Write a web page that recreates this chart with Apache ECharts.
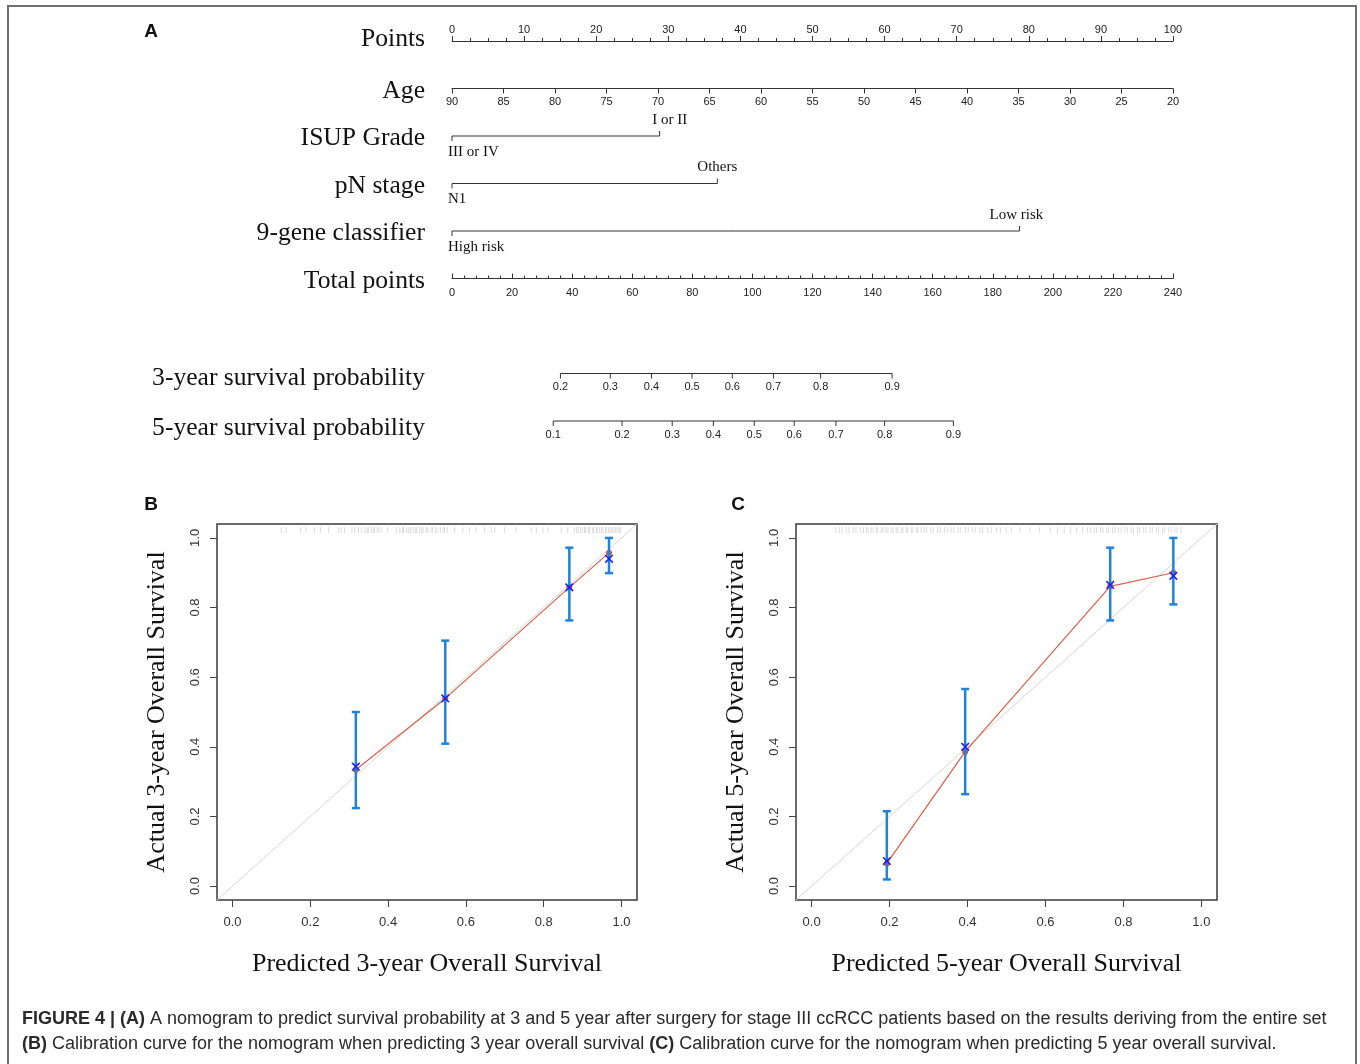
<!DOCTYPE html>
<html>
<head>
<meta charset="utf-8">
<script src="https://cdn.jsdelivr.net/npm/echarts@6/dist/echarts.min.js"></script>
<style>
html,body{margin:0;padding:0;background:#ffffff;}
#chart{width:1360px;height:1064px;}
</style>
</head>
<body>
<div id="chart"></div>
<script>
// ================= DATA =================
// Nomogram rows (names, in drawing order) and their row slots
const rowNames = ['Points', 'Age', 'ISUP Grade', 'pN stage', '9-gene classifier', 'Total points',
                  '3-year survival probability', '5-year survival probability'];
const rowSlots = [0, 1, 2, 3, 4, 5, 7, 8];

// Scales of the continuous nomogram axes
const pointsRange = [0, 100];
const ageRange = [20, 90];
const totalRange = [0, 240];

// Categorical predictors: levels and points
const isupLevels = ['III or IV', 'I or II'];
const isupPoints = [0, 28.8];
const pnLevels = ['N1', 'Others'];
const pnPoints = [0, 36.8];
const geneLevels = ['High risk', 'Low risk'];
const genePoints = [0, 78.7];

// Survival-probability axes: tick labels and their position in total points
const surv3Labels = ['0.2', '0.3', '0.4', '0.5', '0.6', '0.7', '0.8', '0.9'];
const surv3Total = [36.1, 52.7, 66.4, 79.9, 93.3, 107.0, 122.7, 146.5];
const surv5Labels = ['0.1', '0.2', '0.3', '0.4', '0.5', '0.6', '0.7', '0.8', '0.9'];
const surv5Total = [33.7, 56.6, 73.3, 87.0, 100.6, 113.9, 127.8, 144.0, 166.9];

// Calibration, 3-year (panel B)
const pred3 = [0.317, 0.547, 0.866, 0.968];
const obs3 = [0.334, 0.539, 0.858, 0.957];
const corr3 = [0.343, 0.539, 0.858, 0.940];
const lo3 = [0.224, 0.409, 0.763, 0.899];
const hi3 = [0.500, 0.705, 0.972, 1.000];
const rug3 = [0.125, 0.138, 0.175, 0.189, 0.211, 0.226, 0.247, 0.272, 0.279, 0.288, 0.307, 0.314, 0.324, 0.331,
  0.340, 0.346, 0.349, 0.357, 0.362, 0.365, 0.372, 0.376, 0.382, 0.399, 0.421,
  0.430, 0.437, 0.440, 0.448, 0.453, 0.457, 0.464, 0.470, 0.473, 0.481, 0.486, 0.490, 0.498, 0.502, 0.510,
  0.514, 0.522, 0.526, 0.534, 0.541, 0.545, 0.553,
  0.571, 0.592, 0.609, 0.626, 0.648, 0.665, 0.674, 0.699, 0.729, 0.768, 0.781, 0.798, 0.811, 0.845, 0.862,
  0.879, 0.885, 0.888, 0.895, 0.899, 0.905, 0.908, 0.915, 0.918, 0.925, 0.928, 0.935, 0.938, 0.944, 0.949,
  0.953, 0.959, 0.962, 0.967, 0.970, 0.975, 0.978, 0.983, 0.986, 0.991, 0.994, 0.998];
// Calibration, 5-year (panel C)
const pred5 = [0.193, 0.394, 0.766, 0.928];
const obs5 = [0.065, 0.386, 0.861, 0.900];
const corr5 = [0.072, 0.400, 0.865, 0.891];
const lo5 = [0.019, 0.264, 0.763, 0.809];
const hi5 = [0.215, 0.566, 0.972, 1.000];
const rug5 = [0.062, 0.071, 0.078, 0.089, 0.096, 0.107, 0.114, 0.126,
  0.133, 0.141, 0.145, 0.153, 0.158, 0.166, 0.170, 0.179, 0.183, 0.191, 0.196, 0.204, 0.209, 0.217, 0.221,
  0.230, 0.234, 0.243, 0.247, 0.256, 0.260, 0.269, 0.273, 0.281,
  0.289, 0.295, 0.306, 0.312, 0.323, 0.330, 0.341, 0.348, 0.358, 0.365, 0.376, 0.383, 0.395, 0.402,
  0.413, 0.420, 0.432, 0.439, 0.452, 0.461, 0.475, 0.485, 0.499, 0.512,
  0.535, 0.560, 0.585, 0.612, 0.631, 0.648, 0.664, 0.680, 0.695, 0.708,
  0.716, 0.725, 0.731, 0.741, 0.747, 0.757, 0.762, 0.772, 0.778, 0.788, 0.794, 0.804, 0.810, 0.820,
  0.826, 0.836, 0.842, 0.852, 0.858, 0.868, 0.874, 0.884, 0.890, 0.900, 0.906, 0.916, 0.922, 0.932, 0.938, 0.947];
const calTicks = [0, 0.2, 0.4, 0.6, 0.8, 1.0];
const calRange = [-0.04, 1.04];

const captionLine1 = ['FIGURE 4 | (A)', ' A nomogram to predict survival probability at 3 and 5 year after surgery for stage III ccRCC patients based on the results deriving from the entire set'];
const captionLine2 = ['(B)', ' Calibration curve for the nomogram when predicting 3 year overall survival ', '(C)', ' Calibration curve for the nomogram when predicting 5 year overall survival.'];

// ================= STYLE / LAYOUT =================
const AX = '#333333';
const SERIF = '"Liberation Serif", "Times New Roman", serif';
const SANS = '"Liberation Sans", Arial, sans-serif';
const ERR = '#2182d8';
const NOMO_LEFT = 452, NOMO_W = 721, NOMO_TOP = 41, SLOT_H = 47.5;
const slotY = s => NOMO_TOP + s * SLOT_H;
const nameDy = [-2, 3, 2, 3, 2, 3, 5, 7];

const catLevels = [isupLevels, pnLevels, geneLevels];
const catPts = [isupPoints, pnPoints, genePoints];
const survLabels = [surv3Labels, surv5Labels];
const survTotals = [surv3Total, surv5Total];

function lineEl(x1, y1, x2, y2, stroke, w) {
  return {type: 'line', shape: {x1, y1, x2, y2}, style: {stroke, lineWidth: w}};
}

function renderRowName(params, api) {
  const slot = api.value(0), k = api.value(1);
  const p = api.coord([0, slot]);
  return {type: 'text', style: {x: p[0] - 27, y: p[1] + nameDy[k], text: rowNames[k], align: 'right', verticalAlign: 'middle',
    fontSize: 25.6, fontFamily: SERIF, fill: '#111'}};
}

function renderCat(params, api) {
  const slot = api.value(0), k = api.value(1);
  const pts = catPts[k], labs = catLevels[k];
  const a = api.coord([pts[0], slot]), b = api.coord([pts[1], slot]);
  const y = a[1];
  return {type: 'group', children: [
    lineEl(a[0], y, b[0], y, AX, 1),
    lineEl(a[0], y, a[0], y + 5, AX, 1),
    lineEl(b[0], y, b[0], y - 5, AX, 1),
    {type: 'text', style: {x: a[0] - 4, y: y + 16, text: labs[0], align: 'left', verticalAlign: 'middle', fontSize: 15, fontFamily: SERIF, fill: '#111'}},
    {type: 'text', style: {x: b[0] + (k === 0 ? 10 : (k === 2 ? -3 : 0)), y: y - 16, text: labs[1], align: 'center', verticalAlign: 'middle', fontSize: 15, fontFamily: SERIF, fill: '#111'}}
  ]};
}

function renderProb(params, api) {
  const slot = api.value(0), k = api.value(1);
  const tp = survTotals[k], lb = survLabels[k];
  const y = api.coord([0, slot])[1];
  const xs = tp.map(v => api.coord([v, slot])[0]);
  const ch = [lineEl(xs[0], y, xs[xs.length - 1], y, AX, 1)];
  xs.forEach((x, i) => {
    ch.push(lineEl(x, y, x, y + 5, AX, 1));
    ch.push({type: 'text', style: {x, y: y + 13 + k, text: lb[i], align: 'center', verticalAlign: 'middle', fontSize: 11, fontFamily: SANS, fill: '#222'}});
  });
  return {type: 'group', children: ch};
}

function renderErr(params, api) {
  const x = api.value(0), lo = api.value(1), hi = api.value(2);
  const a = api.coord([x, lo]), b = api.coord([x, hi]);
  const w = 4;
  return {type: 'group', children: [
    lineEl(a[0], a[1], b[0], b[1], ERR, 2.5),
    lineEl(a[0] - w, a[1], a[0] + w, a[1], ERR, 2.5),
    lineEl(b[0] - w, b[1], b[0] + w, b[1], ERR, 2.5)
  ]};
}

function renderCross(params, api) {
  const p = api.coord([api.value(0), api.value(1)]);
  const s = 3.8, c = '#2222ee';
  return {type: 'group', children: [
    lineEl(p[0] - s, p[1] - s, p[0] + s, p[1] + s, c, 1.6),
    lineEl(p[0] - s, p[1] + s, p[0] + s, p[1] - s, c, 1.6)
  ]};
}

function nomoAxis(gridIndex, extra) {
  return Object.assign({
    gridIndex, type: 'value',
    axisLine: {show: true, onZero: false, lineStyle: {color: AX, width: 1}},
    axisTick: {show: true, length: 5, lineStyle: {color: AX, width: 1}},
    axisLabel: {fontSize: 11, fontFamily: SANS, color: '#222', margin: 7},
    splitLine: {show: false}
  }, extra);
}

function calX(gridIndex, name) {
  return {
    gridIndex, type: 'value', min: calRange[0], max: calRange[1],
    axisLine: {show: false, onZero: false},
    axisTick: {show: true, length: 7, customValues: calTicks, lineStyle: {color: '#444', width: 1}},
    axisLabel: {customValues: calTicks, formatter: v => v.toFixed(1), fontSize: 13, fontFamily: SANS, color: '#333', margin: 16},
    splitLine: {show: false},
    name, nameLocation: 'middle', nameGap: 51,
    nameTextStyle: {fontSize: 26, fontFamily: SERIF, color: '#111'}
  };
}
function calY(gridIndex, name) {
  return {
    gridIndex, type: 'value', min: calRange[0], max: calRange[1],
    axisLine: {show: false, onZero: false},
    axisTick: {show: true, length: 7, customValues: calTicks, lineStyle: {color: '#444', width: 1}},
    axisLabel: {customValues: calTicks, rotate: 90, formatter: v => v.toFixed(1), fontSize: 13, fontFamily: SANS, color: '#333', margin: 15},
    splitLine: {show: false},
    name, nameLocation: 'middle', nameGap: 47,
    nameTextStyle: {fontSize: 26, fontFamily: SERIF, color: '#111'}
  };
}

function calSeries(xi, yi, pred, obs, corr, lo, hi, rug) {
  return [
    {type: 'line', xAxisIndex: xi, yAxisIndex: yi, data: [[calRange[0], calRange[0]], [calRange[1], calRange[1]]],
      symbol: 'none', silent: true, z: 1, lineStyle: {color: '#d6d6d6', width: 1}},
    {type: 'scatter', xAxisIndex: xi, yAxisIndex: yi, data: rug.map(v => [v, 1.023]), symbol: 'rect', symbolSize: [1, 6],
      silent: true, z: 1, itemStyle: {color: '#d2d2d2'}},
    {type: 'line', xAxisIndex: xi, yAxisIndex: yi, data: pred.map((p, i) => [p, obs[i]]), symbol: 'circle', symbolSize: 6,
      silent: true, z: 2, lineStyle: {color: '#d8604c', width: 1.2}, itemStyle: {color: '#d0553f'}},
    {type: 'custom', xAxisIndex: xi, yAxisIndex: yi, data: pred.map((p, i) => [p, lo[i], hi[i]]), renderItem: renderErr, silent: true, z: 3},
    {type: 'custom', xAxisIndex: xi, yAxisIndex: yi, data: pred.map((p, i) => [p, corr[i]]), renderItem: renderCross, silent: true, z: 4}
  ];
}

const option = {
  animation: false,
  backgroundColor: '#ffffff',
  grid: [
    {left: NOMO_LEFT, width: NOMO_W, top: NOMO_TOP, height: SLOT_H * 8},          // 0 nomogram canvas
    {left: NOMO_LEFT, width: NOMO_W, top: slotY(0), height: 1},                 // 1 Points
    {left: NOMO_LEFT, width: NOMO_W, top: slotY(1) - 1, height: 1},             // 2 Age
    {left: NOMO_LEFT, width: NOMO_W, top: slotY(5) - 1, height: 1},             // 3 Total points
    {left: 217, top: 524, width: 420, height: 376, show: true, borderColor: '#3a3a3a', borderWidth: 1.5, backgroundColor: 'rgba(0,0,0,0)'},
    {left: 796, top: 524, width: 421, height: 376, show: true, borderColor: '#3a3a3a', borderWidth: 1.5, backgroundColor: 'rgba(0,0,0,0)'}
  ],
  xAxis: [
    {gridIndex: 0, type: 'value', min: pointsRange[0], max: pointsRange[1], show: false},
    {gridIndex: 0, type: 'value', min: totalRange[0], max: totalRange[1], show: false},
    nomoAxis(1, {position: 'top', min: pointsRange[0], max: pointsRange[1], interval: 10,
      axisLabel: {fontSize: 11, fontFamily: SANS, color: '#222', margin: 6},
      minorTick: {show: true, splitNumber: 4, length: 3, lineStyle: {color: AX, width: 1}}}),
    nomoAxis(2, {position: 'bottom', min: ageRange[0], max: ageRange[1], interval: 5, inverse: true,
      axisLabel: {fontSize: 11, fontFamily: SANS, color: '#222', margin: 8}}),
    nomoAxis(3, {position: 'bottom', min: totalRange[0], max: totalRange[1], interval: 20,
      axisTick: {show: true, inside: true, length: 5, lineStyle: {color: AX, width: 1}},
      minorTick: {show: true, splitNumber: 5, length: 3, lineStyle: {color: AX, width: 1}},
      axisLabel: {fontSize: 11, fontFamily: SANS, color: '#222', margin: 9}}),
    calX(4, 'Predicted 3-year Overall Survival'),
    calX(5, 'Predicted 5-year Overall Survival')
  ],
  yAxis: [
    {gridIndex: 0, type: 'value', min: 0, max: 8, inverse: true, show: false},
    {gridIndex: 1, type: 'value', show: false},
    {gridIndex: 2, type: 'value', show: false},
    {gridIndex: 3, type: 'value', show: false},
    calY(4, 'Actual 3-year Overall Survival'),
    calY(5, 'Actual 5-year Overall Survival')
  ],
  series: [
    {type: 'custom', xAxisIndex: 0, yAxisIndex: 0, silent: true, renderItem: renderRowName,
      data: rowNames.map((n, i) => [rowSlots[i], i])},
    {type: 'custom', xAxisIndex: 0, yAxisIndex: 0, silent: true, renderItem: renderCat,
      data: [[rowSlots[2], 0], [rowSlots[3], 1], [rowSlots[4], 2]]},
    {type: 'custom', xAxisIndex: 1, yAxisIndex: 0, silent: true, renderItem: renderProb,
      data: [[rowSlots[6], 0], [rowSlots[7], 1]]},
    ...calSeries(5, 4, pred3, obs3, corr3, lo3, hi3, rug3),
    ...calSeries(6, 5, pred5, obs5, corr5, lo5, hi5, rug5)
  ],
  graphic: [
    {type: 'rect', silent: true, shape: {x: 8, y: 6, width: 1348, height: 1080},
      style: {fill: 'none', stroke: '#707070', lineWidth: 2}},
    {type: 'text', silent: true, style: {x: 151, y: 32, text: 'A', align: 'center', verticalAlign: 'middle', fontSize: 19, fontWeight: 'bold', fontFamily: SANS, fill: '#111'}},
    {type: 'text', silent: true, style: {x: 151, y: 505, text: 'B', align: 'center', verticalAlign: 'middle', fontSize: 19, fontWeight: 'bold', fontFamily: SANS, fill: '#111'}},
    {type: 'text', silent: true, style: {x: 738, y: 505, text: 'C', align: 'center', verticalAlign: 'middle', fontSize: 19, fontWeight: 'bold', fontFamily: SANS, fill: '#111'}},
    {type: 'text', silent: true, style: {x: 22, y: 1019, verticalAlign: 'middle', align: 'left',
      text: '{b|' + captionLine1[0] + '}{n|' + captionLine1[1] + '}',
      rich: {b: {fontSize: 18, fontWeight: 'bold', fontFamily: SANS, fill: '#2a2a2a'},
             n: {fontSize: 18, fontFamily: SANS, fill: '#2a2a2a'}}}},
    {type: 'text', silent: true, style: {x: 22, y: 1044, verticalAlign: 'middle', align: 'left',
      text: '{b|' + captionLine2[0] + '}{n|' + captionLine2[1] + '}{b|' + captionLine2[2] + '}{n|' + captionLine2[3] + '}',
      rich: {b: {fontSize: 18, fontWeight: 'bold', fontFamily: SANS, fill: '#2a2a2a'},
             n: {fontSize: 18, fontFamily: SANS, fill: '#2a2a2a'}}}}
  ]
};

const chart = echarts.init(document.getElementById('chart'), null, {renderer: 'canvas'});
chart.setOption(option);
</script>
</body>
</html>
